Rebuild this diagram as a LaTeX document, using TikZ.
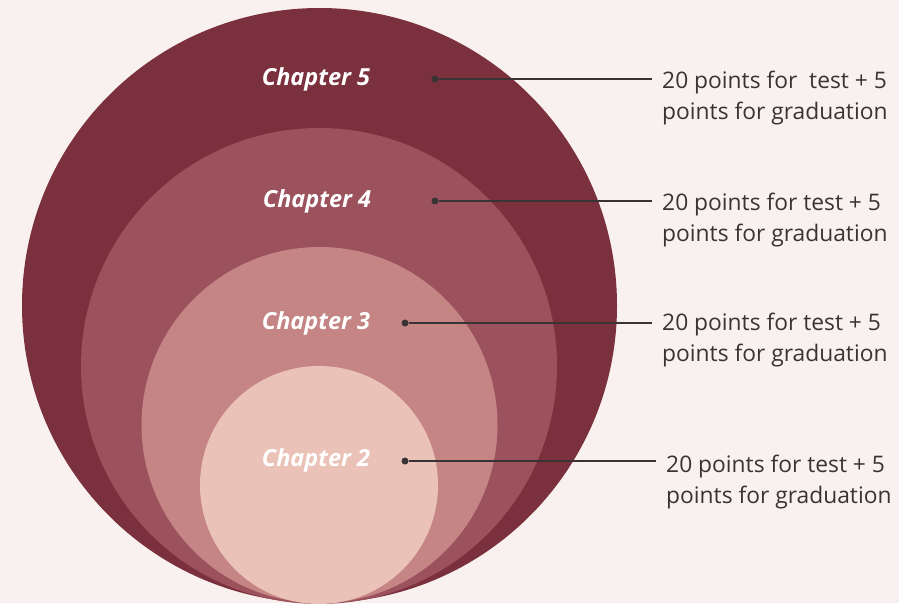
\documentclass[tikz,border=0pt]{standalone}
\usepackage{fontspec}
\setmainfont{Open Sans}
\definecolor{paper}{HTML}{F9F1EF}
\definecolor{ringfive}{HTML}{7A303D}
\definecolor{ringfour}{HTML}{9C525D}
\definecolor{ringthree}{HTML}{C48584}
\definecolor{ringtwo}{HTML}{EBC2B8}
\definecolor{ink}{HTML}{3A3335}
\tikzset{
  chap/.style={text=white, font=\fontsize{23.5}{26}\selectfont\bfseries\itshape},
  note/.style={anchor=west, align=left, inner xsep=10pt, inner ysep=0pt, text=ink,
    font=\fontsize{22.8}{31}\selectfont},
  dot/.style={circle, fill=ink, inner sep=0pt, minimum size=7pt},
  lead/.style={draw=ink, line width=1.6pt}
}
\begin{document}
\begin{tikzpicture}[x=1pt,y=-1pt]
  \useasboundingbox[fill=paper] (0,0) rectangle (899,603);
  % rings, all touching at the bottom
  \fill[ringfive] (319.5,305.5) circle (297.5pt);
  \fill[ringfour] (319,366) circle (238pt);
  \fill[ringthree] (319.5,425) circle (178pt);
  \fill[ringtwo] (319,485) circle (119pt);

  \node[chap] (c5) at (316,79) {Chapter 5};
  \node[chap] (c4) at (317,201) {Chapter 4};
  \node[chap] (c3) at (316,323) {Chapter 3};
  \node[chap] (c2) at (316,460) {Chapter 2};

  \node[dot] (d5) at (435,79) {};
  \node[dot] (d4) at (435,201) {};
  \node[dot] (d3) at (405,323) {};
  \node[dot] (d2) at (405,461) {};

  \node[note] (n5) at (652,98) {20 points for\ \ test + 5\\points for graduation};
  \node[note] (n4) at (652,220) {20 points for test + 5\\points for graduation};
  \node[note] (n3) at (652,340) {20 points for test + 5\\points for graduation};
  \node[note] (n2) at (656,482) {20 points for test + 5\\points for graduation};

  \draw[lead] (d5) -- (d5 -| n5.west);
  \draw[lead] (d4) -- (d4 -| n4.west);
  \draw[lead] (d3) -- (d3 -| n3.west);
  \draw[lead] (d2) -- (d2 -| n2.west);
\end{tikzpicture}
\end{document}
